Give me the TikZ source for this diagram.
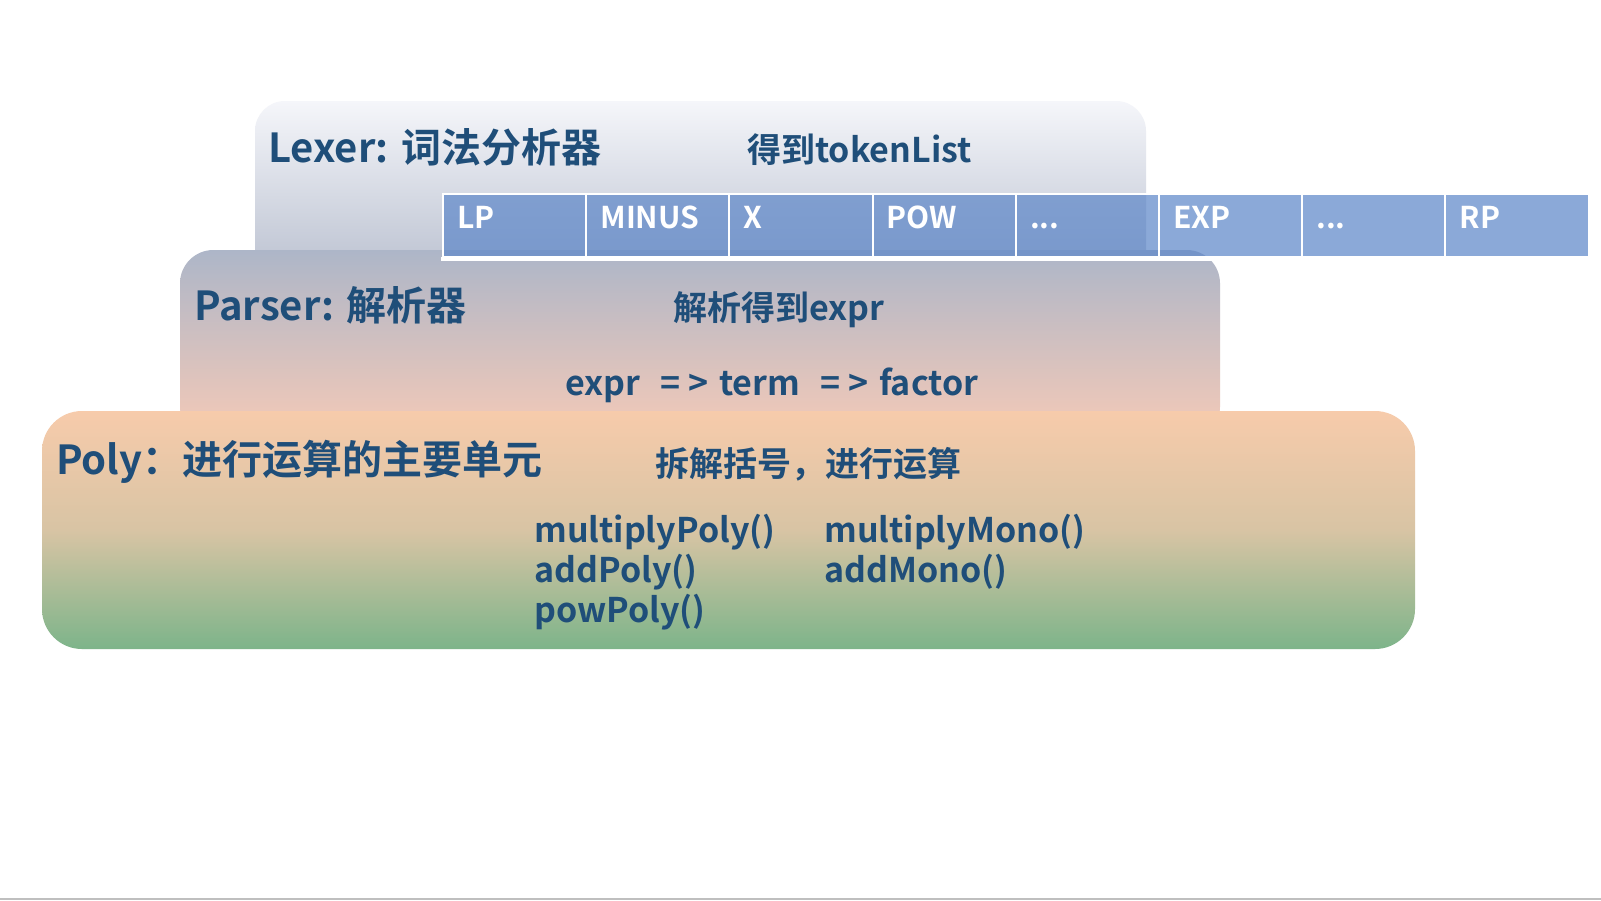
\documentclass[tikz,border=0pt]{standalone}
\usepackage{fontspec}
\setmainfont{Noto Sans CJK SC}[BoldFont={Noto Sans CJK SC Bold}]
\usepackage{tikz}
\usetikzlibrary{positioning,calc}
\usepackage{xcolor}
\definecolor{txtblue}{RGB}{31,78,121}
\definecolor{tokblue}{RGB}{95,136,201}
\definecolor{lexTop}{RGB}{245,246,250}
\definecolor{lexBot}{RGB}{182,189,205}
\definecolor{parTop}{RGB}{173,182,200}
\definecolor{parBot}{RGB}{246,202,183}
\definecolor{polyTop}{RGB}{247,203,171}
\definecolor{polyMid}{RGB}{216,196,164}
\definecolor{polyBot}{RGB}{125,180,138}
\newcommand{\tokdots}{...}
\newcommand{\flowsep}{\hspace{0.6em}=\hspace{0.22em}>\hspace{0.32em}}

\begin{document}
\begin{tikzpicture}[x=0.75pt, y=-0.75pt,
    layer/.style={inner sep=0pt, outer sep=0pt, draw=none},
    title/.style={anchor=base west, inner sep=0pt, text=txtblue, font=\bfseries\fontsize{30}{36}\selectfont},
    note/.style={anchor=base west, inner sep=0pt, text=txtblue, font=\bfseries\fontsize{25.5}{30}\selectfont},
    method/.style={anchor=base west, inner sep=0pt, text=txtblue, font=\bfseries\fontsize{25.5}{30}\selectfont},
    tokcell/.style={minimum width=107.4pt, minimum height=47.25pt, inner sep=0pt, fill=tokblue, fill opacity=0.72, draw=white, line width=1.5pt},
    toktext/.style={anchor=base west, inner sep=0pt, text=white, font=\bfseries\fontsize{22.5}{27}\selectfont}]
  \useasboundingbox (0,0) rectangle (1601,900);
  \fill[white] (0,0) rectangle (1601,900);
  \draw[black!25, line width=1.2pt] (0,899) -- (1601,899);

  % three stacked layers
  \node[layer, rounded corners=22.5pt, top color=lexTop, bottom color=lexBot,
        minimum width=668.25pt, minimum height=141.75pt] (lexer) at (700.5,195.5) {};
  \node[layer, rounded corners=25pt, top color=parTop, bottom color=parBot,
        minimum width=780pt, minimum height=142.5pt] (parser) at (700,345) {};

  % token list
  \fill[white] (441,257) rectangle (1590,261);
  \foreach \t [count=\i from 0] in {LP,MINUS,X,POW,\tokdots,EXP,\tokdots,RP} {
    \node[tokcell] (tok\i) at ({514.6+143.2*\i},225.5) {};
    \node[toktext] (toklbl\i) at ($(tok\i.west)+(15,2.5)$) {\t};
  }

  \node[layer, rounded corners=30pt, top color=polyTop, bottom color=polyBot, middle color=polyMid,
        minimum width=1029.75pt, minimum height=178.5pt] (poly) at (728.5,530) {};

  % labels
  \node[title] (lexerTitle) at (268,162) {Lexer: 词法分析器};
  \node[note] (lexerNote) at (747,162) {得到tokenList};
  \node[title] (parserTitle) at (194,320) {Parser: 解析器};
  \node[note] (parserNote) at (673,320) {解析得到expr};
  \node[method] (parserFlow) at (565,395) {expr\flowsep term\flowsep factor};
  \node[title] (polyTitle) at (56,474) {Poly：进行运算的主要单元};
  \node[note] (polyNote) at (655,476) {拆解括号，进行运算};

  \node[method] (mulPoly) at (534,542) {multiplyPoly()};
  \node[method] (addPoly) at (534,582) {addPoly()};
  \node[method] (powPoly) at (534,622) {powPoly()};
  \node[method] (mulMono) at (824,542) {multiplyMono()};
  \node[method] (addMono) at (824,582) {addMono()};
\end{tikzpicture}
\end{document}
